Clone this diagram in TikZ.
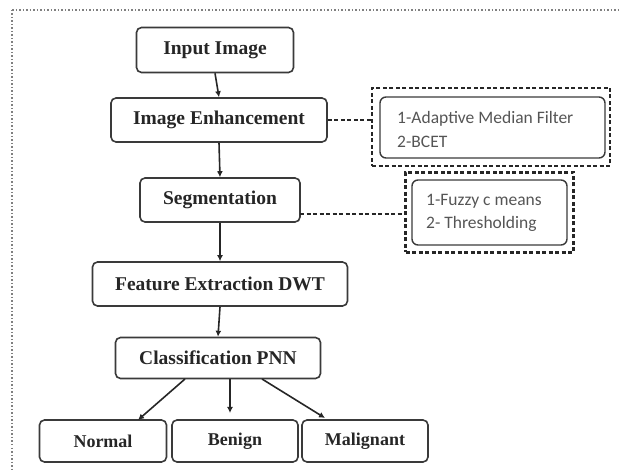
\documentclass[tikz,border=0pt]{standalone}
\usepackage{fontspec}
\setmainfont{Liberation Serif}
\newfontfamily\notefont{Carlito}
\usetikzlibrary{arrows.meta}
\definecolor{edge}{HTML}{3A3A3A}
\definecolor{notetext}{HTML}{555555}
\tikzset{
  stage/.style={draw=edge, line width=1.6pt, rounded corners=5pt, fill=white,
    font=\bfseries\fontsize{19.5}{22}\selectfont, text=black!85, inner sep=0pt},
  leaf/.style={stage, font=\bfseries\fontsize{18}{21}\selectfont},
  notebox/.style={draw=edge, line width=1.4pt, rounded corners=6pt, inner sep=0pt},
  noteframe/.style={draw=black!85, line width=2.4pt, dash pattern=on 4pt off 2.5pt},
  notetxt/.style={font=\notefont\fontsize{17.5}{20}\selectfont, text=notetext, anchor=west, inner sep=0pt},
  link/.style={draw=black!85, line width=1.6pt, -{Latex[length=6pt,width=6pt]}},
  dashlink/.style={draw=black!85, line width=1.8pt, dash pattern=on 4pt off 2.5pt},
}
\begin{document}
\begin{tikzpicture}[x=1pt,y=-1pt]
\useasboundingbox (0,0) rectangle (619,470);
% dotted outer frame (top and left edges)
\draw[gray, line width=1.5pt, dotted] (12,10) -- (619,10);
\draw[gray, line width=1.5pt, dotted] (12,10) -- (12,470);

% main pipeline
\node[stage, minimum width=157pt, minimum height=45pt] (inp) at (215,50) {Input Image};
\node[stage, minimum width=216pt, minimum height=44pt] (enh) at (219,120) {Image Enhancement};
\node[stage, minimum width=160pt, minimum height=44pt] (seg) at (220,200) {Segmentation};
\node[stage, minimum width=255pt, minimum height=44pt] (fea) at (220,284) {Feature Extraction DWT};
\node[stage, minimum width=205pt, minimum height=41pt] (cls) at (218,358) {Classification PNN};
\node[leaf, minimum width=127pt, minimum height=42pt] (nor) at (103,441) {Normal};
\node[leaf, minimum width=126pt, minimum height=42pt] (ben) at (235,441) {Benign};
\node[leaf, minimum width=126pt, minimum height=42pt] (mal) at (365,441) {Malignant};

\draw[link] (inp.south) -- (enh.north);
\draw[link] (enh.south) -- (seg.north);
\draw[link] (seg.south) -- (fea.north);
\draw[link] (fea.south) -- (cls.north);
\coordinate (c1) at (185,379);
\coordinate (c2) at (230,379);
\coordinate (c3) at (262,379);
\coordinate (n1) at (138,420);
\coordinate (b1) at (230,413);
\coordinate (m1) at (325,418);
\draw[link] (c1) -- (n1);
\draw[link] (c2) -- (b1);
\draw[link] (c3) -- (m1);

% enhancement methods
\node[noteframe, minimum width=238pt, minimum height=78pt, inner sep=0pt] (f1) at (491,127) {};
\node[notebox, minimum width=225pt, minimum height=61pt] (b1n) at (492.5,127.5) {};
\node[notetxt] (t1a) at (397,119) {1-Adaptive Median Filter};
\node[notetxt] (t1b) at (397,142) {2-BCET};
\draw[dashlink] (enh.east) -- (enh.east -| f1.west);

% segmentation methods
\node[noteframe, minimum width=168pt, minimum height=80pt, inner sep=0pt] (f2) at (489.5,212.5) {};
\node[notebox, minimum width=155pt, minimum height=65pt] (b2n) at (489.5,212.5) {};
\node[notetxt] (t2a) at (426,201) {1-Fuzzy c means};
\node[notetxt] (t2b) at (426,224) {2- Thresholding};
\coordinate (s2) at (300,214);
\draw[dashlink] (s2) -- (s2 -| f2.west);
\end{tikzpicture}
\end{document}
